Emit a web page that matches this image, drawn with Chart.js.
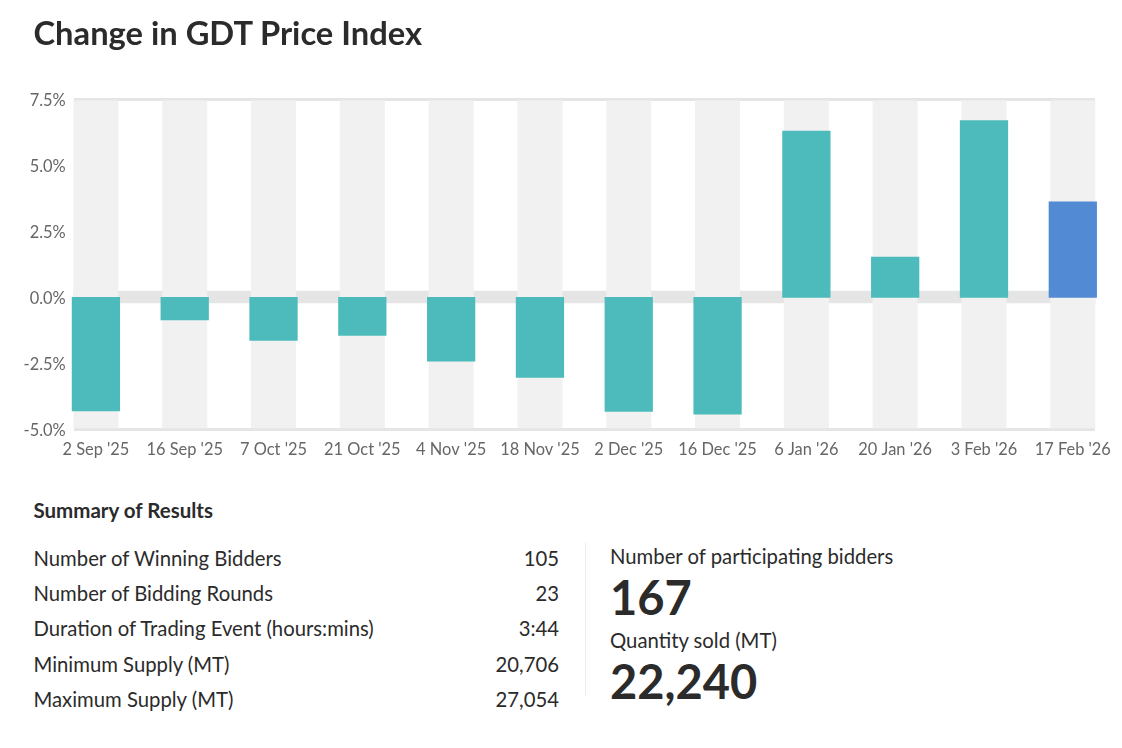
<!DOCTYPE html>
<html><head><meta charset="utf-8">
<style>
html,body{margin:0;padding:0;background:#fff;width:1122px;height:748px;overflow:hidden;font-family:Lato,sans-serif;color:#2b2b2b}
canvas{position:absolute;left:0;top:0}
.t{position:absolute;white-space:nowrap;line-height:1;transform:translateY(-50%)}
#title{left:33.5px;top:33px;font-size:32.7px;font-weight:700}
#sum{left:33.5px;top:510px;font-size:20.5px;font-weight:700}
.l{left:33.5px;font-size:20.3px}
.r{right:563px;font-size:20.3px}
.big{left:610px;font-size:47px;font-weight:700}
.lab{left:610px;font-size:20.3px}
#div{position:absolute;left:585px;top:543px;width:1px;height:153px;background:#ececec}
</style></head><body>
<div id="chartBox"><canvas id="c" width="1122" height="480"></canvas></div>
<div class="t" id="title">Change in GDT Price Index</div>
<div class="t" id="sum">Summary of Results</div>
<div id="div"></div>
<div id="rows"></div>
<script src="https://cdn.jsdelivr.net/npm/chart.js@4/dist/chart.umd.min.js"></script>
<script>
const categories=["2 Sep '25","16 Sep '25","7 Oct '25","21 Oct '25","4 Nov '25","18 Nov '25","2 Dec '25","16 Dec '25","6 Jan '26","20 Jan '26","3 Feb '26","17 Feb '26"];
const changes=[-4.3,-0.85,-1.63,-1.44,-2.42,-3.03,-4.32,-4.43,6.3,1.53,6.7,3.62];
const barColors=["#4dbbbb","#4dbbbb","#4dbbbb","#4dbbbb","#4dbbbb","#4dbbbb","#4dbbbb","#4dbbbb","#4dbbbb","#4dbbbb","#4dbbbb","#528bd3"];
const bandRange=[-4.95,7.45];
const zeroBandRange=[-0.21,0.24];
const yTicks=[-5,-2.5,0,2.5,5,7.5];
const summaryLabels=["Number of Winning Bidders","Number of Bidding Rounds","Duration of Trading Event (hours:mins)","Minimum Supply (MT)","Maximum Supply (MT)"];
const summaryValues=["105","23","3:44","20,706","27,054"];
const summaryTops=[557.5,592.5,627.5,663.5,698.5];
const statLabels=["Number of participating bidders","Quantity sold (MT)"];
const statValues=["167","22,240"];

const rows=document.getElementById('rows');
function add(cls,text,top){const d=document.createElement('div');d.className='t '+cls;d.textContent=text;d.style.top=top+'px';rows.appendChild(d);}
summaryLabels.forEach((s,i)=>{add('l',s,summaryTops[i]);add('r',summaryValues[i],summaryTops[i]);});
add('lab',statLabels[0],556);add('big',statValues[0],596.5);add('lab',statLabels[1],639.5);add('big',statValues[1],680.5);

Chart.defaults.font.family='Lato';
new Chart(document.getElementById('c'),{
  type:'bar',
  data:{datasets:[
    {data:changes.map((v,i)=>({x:i,y:v})),backgroundColor:barColors,barThickness:47.6,grouped:false,order:1,clip:false},
    {data:categories.map((c,i)=>({x:i,y:bandRange})),backgroundColor:'#f1f1f1',barThickness:44.4,grouped:false,order:2,clip:false},
    {data:[{x:5.5,y:zeroBandRange}],backgroundColor:'#e5e5e5',barThickness:1021.4,grouped:false,order:3,clip:false}
  ]},
  options:{
    responsive:false,animation:false,
    layout:{padding:{left:0,right:27,top:99.5,bottom:0}},
    plugins:{legend:{display:false},tooltip:{enabled:false}},
    scales:{
      x:{type:'linear',offset:false,min:-0.25,max:11.25,
        grid:{display:false},border:{display:false},
        afterBuildTicks:s=>{s.ticks=categories.map((c,i)=>({value:i}));},
        afterFit:s=>{s.height=50.7;s.paddingLeft=0;s.paddingRight=0;},
        ticks:{autoSkip:false,maxRotation:0,minRotation:0,padding:3,color:'#666',font:{size:16.4},
          callback:v=>categories[v]}
      },
      y:{min:-5,max:7.5,
        afterBuildTicks:s=>{s.ticks=yTicks.map(v=>({value:v}));},
        afterFit:s=>{s.width=73.7;s.paddingTop=0;s.paddingBottom=0;},
        border:{display:false},
        grid:{drawTicks:false,
          color:'#e5e5e5',
          lineWidth:c=>c.tick&&(c.tick.value===7.5||c.tick.value===-5)?3:0},
        ticks:{padding:8,labelOffset:1,color:'#666',font:{size:16.4},callback:v=>v.toFixed(1)+'%'}
      }
    }
  }
});
</script>
</body></html>
